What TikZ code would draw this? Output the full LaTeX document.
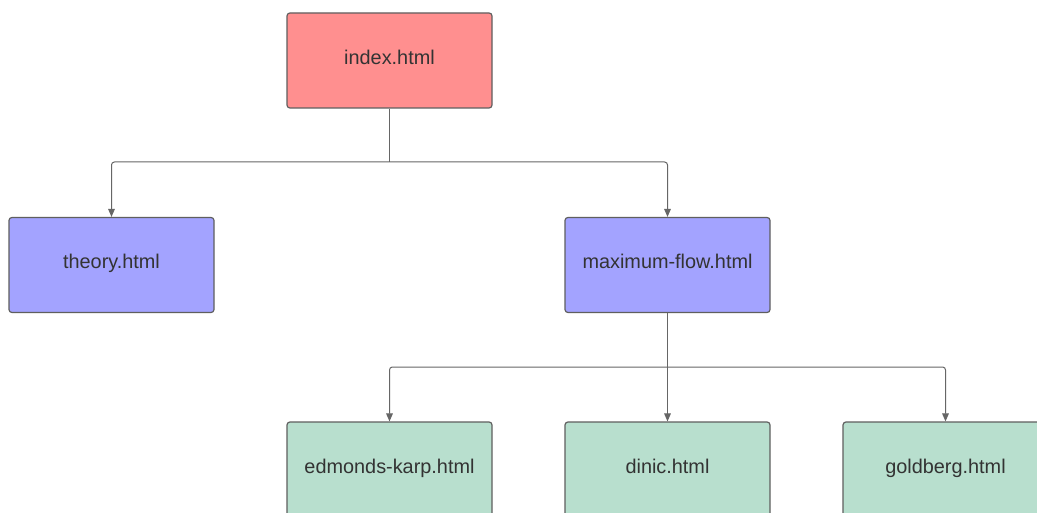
\documentclass[tikz,border=0pt]{standalone}
\usepackage{fontspec}
\setmainfont{Liberation Sans}
\usetikzlibrary{arrows.meta,calc}
\definecolor{boxred}{HTML}{FF8F8F}
\definecolor{boxblue}{HTML}{A3A3FF}
\definecolor{boxgreen}{HTML}{B8DFCE}
\definecolor{edgegray}{HTML}{5F5F5F}
\definecolor{textgray}{HTML}{333333}
\definecolor{linegray}{HTML}{666666}
\tikzset{
  page/.style={draw=edgegray, line width=0.9pt, rounded corners=2.2pt,
    minimum width=153.75pt, minimum height=71.25pt, inner sep=0pt,
    text height=10.7pt, text depth=5.2pt,
    text=textgray, font=\fontsize{14.9}{17}\selectfont},
  redbox/.style={page, fill=boxred},
  bluebox/.style={page, fill=boxblue},
  greenbox/.style={page, fill=boxgreen},
  conn/.style={draw=linegray, line width=0.75pt, rounded corners=2.2pt,
    -{Triangle[length=6pt,width=5pt]}}
}
\begin{document}
\begin{tikzpicture}[x=0.75pt,y=-0.75pt]
\useasboundingbox (0,0) rectangle (1037,513);
\clip (0,0) rectangle (1037,513);
\fill[white] (0,0) rectangle (1037,513);
\node[redbox] (index) at (389.5,60.5) {index.html};
\node[bluebox] (theory) at (111.5,265) {theory.html};
\node[bluebox] (maxflow) at (667.5,265) {maximum-flow.html};
\node[greenbox] (ek) at (389.5,469.5) {edmonds-karp.html};
\node[greenbox] (dinic) at (667.5,469.5) {dinic.html};
\node[greenbox] (goldberg) at (945.5,469.5) {goldberg.html};
\coordinate (j1) at (389.5,162);
\coordinate (j2) at (667.5,367);
\draw[linegray, line width=0.75pt] (index.south) -- (j1);
\draw[conn] (j1) -| (theory.north);
\draw[conn] (j1) -| (maxflow.north);
\draw[linegray, line width=0.75pt] (maxflow.south) -- (j2);
\draw[conn] (j2) -| (ek.north);
\draw[conn] (j2) -- (dinic.north);
\draw[conn] (j2) -| (goldberg.north);
\end{tikzpicture}
\end{document}
